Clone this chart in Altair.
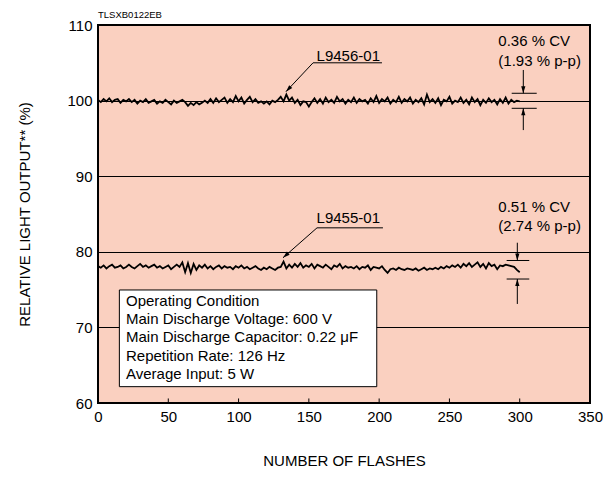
import altair as alt
import pandas as pd

FONT = "Liberation Sans"
BG = "#fad0c0"

# ---- data -------------------------------------------------------------
flashes = list(range(0, 301, 2))

l9456 = [
    100.1, 99.8, 100.2, 99.9, 100.3, 99.8, 100.1, 100.2, 99.7, 100.1,
    99.9, 100.2, 99.8, 100.1, 99.6, 100.0, 99.8, 100.2, 99.7, 99.9,
    100.1, 99.6, 99.9, 99.7, 100.1, 99.8, 99.5, 100.0, 99.7, 99.9,
    100.1, 99.8, 99.3, 99.7, 99.4, 99.8, 99.5, 99.7, 100.0, 99.7,
    100.2, 99.7, 100.3, 99.8, 100.1, 100.4, 99.7, 100.2, 99.8, 100.6,
    99.9, 100.4, 99.6, 100.1, 100.5, 99.8, 100.2, 99.7, 99.9, 99.6,
    99.9, 99.5, 100.0, 99.8, 100.1, 100.5, 99.9, 100.8, 100.0, 100.4,
    99.7, 100.1, 99.4, 99.9, 99.8, 99.2, 99.8, 100.3, 99.7, 100.2,
    99.6, 100.4, 99.8, 100.1, 99.7, 100.5, 99.9, 100.2, 99.6, 100.1,
    99.8, 100.4, 99.7, 100.2, 99.9, 100.1, 99.6, 100.3, 99.8, 100.6,
    99.7, 100.2, 99.9, 100.4, 99.6, 100.1, 99.8, 100.5, 99.7, 100.2,
    99.9, 100.4, 99.6, 100.1, 99.8, 100.3, 99.5, 100.8, 99.8, 100.2,
    99.7, 100.3, 99.4, 100.1, 99.9, 100.5, 99.6, 100.0, 99.8, 100.4,
    99.7, 100.1, 99.5, 100.4, 99.8, 100.2, 99.4, 100.1, 99.7, 100.3,
    99.8, 100.1, 99.5, 100.2, 99.7, 100.4, 99.6, 100.1, 99.8, 100.0,
    99.9,
]

l9455 = [
    78.1, 77.9, 78.2, 77.8, 78.1, 78.3, 77.9, 78.0, 78.2, 77.8,
    78.0, 78.3, 78.0, 77.8, 78.1, 78.4, 78.0, 78.2, 77.9, 78.1,
    78.3, 77.9, 78.1, 77.8, 78.0, 78.2, 77.7, 78.0, 78.3, 78.0,
    78.6, 77.3, 78.5, 77.2, 78.4, 77.6, 78.2, 77.9, 78.3, 77.8,
    78.1, 77.7, 78.0, 78.2, 77.8, 78.1, 77.9, 78.0, 77.7, 78.1,
    77.9, 78.2, 77.8, 78.0, 77.7, 77.9, 78.1, 77.8, 77.6, 77.9,
    77.7, 78.0, 77.8, 77.6, 77.9, 78.0, 78.7, 77.8, 78.3, 77.9,
    78.4, 78.0, 78.5, 77.9, 78.2, 78.0, 78.4, 77.8, 78.3, 78.1,
    77.9, 78.3, 78.0, 77.7, 78.2, 78.0, 78.4, 77.8, 78.1, 77.9,
    78.0, 77.8, 78.1, 77.7, 78.0, 77.9, 78.2, 77.6, 78.0, 77.9,
    77.8, 78.1, 77.6, 77.2, 77.7, 77.8, 77.6, 77.9, 77.7, 77.6,
    77.8, 77.7, 77.6, 77.8, 77.5, 77.7, 77.9, 77.6, 77.8, 77.7,
    77.9, 77.7, 78.0, 77.8, 78.1, 77.9, 78.2, 78.0, 78.3, 77.9,
    78.4, 78.1, 78.5, 78.0, 78.3, 78.6, 78.0, 78.4, 77.8, 78.5,
    78.1, 78.3, 77.7, 78.2, 78.1, 78.3, 78.2, 78.1, 78.0, 77.6,
    77.3,
]

x_ticks = [0, 50, 100, 150, 200, 250, 300, 350]
y_ticks = [60, 70, 80, 90, 100, 110]
inner_ticks = [50, 100, 150, 200, 250, 300]

series_names = ["L9456-01", "L9455-01"]

condition_lines = [
    "Operating Condition",
    "Main Discharge Voltage: 600 V",
    "Main Discharge Capacitor: 0.22 \u03bcF",
    "Repetition Rate: 126 Hz",
    "Average Input: 5 W",
]
condition_y = [73.53, 71.11, 68.69, 66.26, 63.84]
condition_x = 19.9

label_text = ["L9456-01", "L9455-01", "0.36 % CV", "(1.93 % p-p)", "0.51 % CV", "(2.74 % p-p)"]
label_x = [155.5, 155.5, 284.8, 284.8, 284.8, 284.8]
label_y = [105.85, 84.5, 107.88, 105.24, 85.95, 83.44]

# line segments: underline, leader, marker bars and arrow stems
seg_x = [153.0, 153.0, 155.8, 155.8, 294.3, 294.3, 302.55, 302.55, 290.7, 290.7, 298.3, 298.3]
seg_x2 = [202.0, 133.7, 202.7, 131.6, 312.1, 312.1, 302.55, 302.55, 306.8, 306.8, 298.3, 298.3]
seg_y = [105.0, 105.0, 83.17, 83.17, 100.97, 98.98, 104.05, 96.1, 78.85, 76.4, 81.2, 73.1]
seg_y2 = [105.0, 101.18, 83.17, 79.21, 100.97, 98.98, 100.97, 98.98, 78.85, 76.4, 78.85, 76.4]

arrow_x = [133.7, 131.6, 302.55, 302.55, 298.3, 298.3]
arrow_y = [101.18, 79.21, 100.97, 98.98, 78.85, 76.4]
arrow_angle = [223, 229, 180, 0, 180, 0]

box = {"x": [15.2], "x2": [198.3], "y": [62.16], "y2": [74.95]}

# ---- shared scales / axes --------------------------------------------
xs = alt.Scale(domain=[0, 350], nice=False, zero=False)
ys = alt.Scale(domain=[60, 110], nice=False, zero=False)

x_axis = alt.Axis(
    values=x_ticks, title="NUMBER OF FLASHES", grid=False, domain=False,
    ticks=False, labelPadding=6, titlePadding=29, labelFontSize=15,
    titleFontSize=15, labelFont=FONT, titleFont=FONT,
    titleFontWeight="normal", labelColor="black", titleColor="black",
    labelFlush=False, labelOverlap=False)
y_axis = alt.Axis(
    values=y_ticks, title="RELATIVE LIGHT OUTPUT** (%)", grid=True,
    gridColor="black", gridWidth=1, gridOpacity=1, domain=False,
    ticks=False, labelPadding=6, titlePadding=34, labelFontSize=15,
    titleFontSize=15, labelFont=FONT, titleFont=FONT,
    titleFontWeight="normal", labelColor="black", titleColor="black",
    labelFlush=False, labelOverlap=False)


def X(f):
    return alt.X(f, scale=xs, axis=x_axis)


def Y(f):
    return alt.Y(f, scale=ys, axis=y_axis)


# ---- layers -----------------------------------------------------------
lines_df = pd.DataFrame({
    "x": flashes + flashes,
    "y": l9456 + l9455,
    "s": [series_names[0]] * len(flashes) + [series_names[1]] * len(flashes),
})

lines = alt.Chart(lines_df).mark_line(color="black", strokeWidth=1.8).encode(
    x=X("x:Q"), y=Y("y:Q"), detail="s:N",
)

ticks = alt.Chart(pd.DataFrame({"x": inner_ticks, "y": [60] * len(inner_ticks),
                                "y2": [60.6] * len(inner_ticks)})).mark_rule(
    color="black", strokeWidth=1
).encode(x=X("x:Q"), y=Y("y:Q"), y2="y2:Q")

box_layer = alt.Chart(pd.DataFrame(box)).mark_rect(
    fill="white", stroke="black", strokeWidth=1
).encode(x=X("x:Q"), x2="x2:Q", y=Y("y:Q"), y2="y2:Q")

box_text = alt.Chart(pd.DataFrame({
    "t": condition_lines, "x": [condition_x] * len(condition_lines), "y": condition_y
})).mark_text(
    align="left", baseline="middle", font=FONT, fontSize=15, color="black"
).encode(x=X("x:Q"), y=Y("y:Q"), text="t:N")

labels = alt.Chart(pd.DataFrame({"t": label_text, "x": label_x, "y": label_y})).mark_text(
    align="left", baseline="middle", font=FONT, fontSize=15, color="black"
).encode(x=X("x:Q"), y=Y("y:Q"), text="t:N")

segs = alt.Chart(pd.DataFrame({"x": seg_x, "x2": seg_x2, "y": seg_y, "y2": seg_y2})).mark_rule(
    color="black", strokeWidth=1
).encode(x=X("x:Q"), x2="x2:Q", y=Y("y:Q"), y2="y2:Q")

arrows = alt.Chart(pd.DataFrame({"x": arrow_x, "y": arrow_y, "a": arrow_angle})).mark_point(
    shape="M0,0L0.3,1L-0.3,1Z", filled=True, color="black", opacity=1, size=196
).encode(x=X("x:Q"), y=Y("y:Q"), angle=alt.Angle("a:Q", scale=None))

code_label = alt.Chart(pd.DataFrame({"t": ["TLSXB0122EB"], "x": [0], "y": [111.3]})).mark_text(
    align="left", baseline="middle", font=FONT, fontSize=9.5, color="black"
).encode(x=X("x:Q"), y=Y("y:Q"), text="t:N")

chart = alt.layer(
    lines, ticks, box_layer, box_text, segs, arrows, labels, code_label
).properties(
    width=492,
    height=378,
    padding={"left": 90, "top": 17, "right": 13, "bottom": 66},
    autosize=alt.AutoSizeParams(type="none"),
    background="white",
).configure_view(
    fill=BG, stroke="black", strokeWidth=2
)

chart.save("out.html", embed_options={"renderer": "svg", "actions": False})
